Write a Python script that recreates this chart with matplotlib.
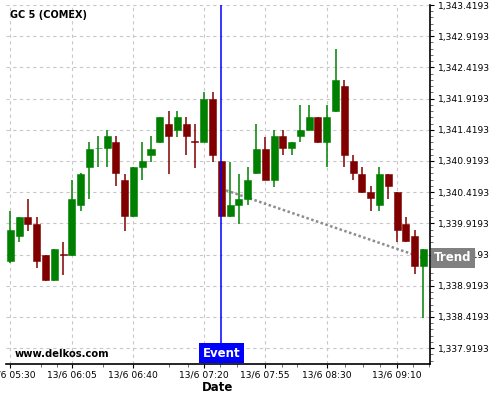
import matplotlib
matplotlib.use("Agg")
import matplotlib.pyplot as plt
import numpy as np
import pandas as pd
from matplotlib.ticker import FixedLocator, FuncFormatter, MultipleLocator

# 5-minute candles, GC 5 (COMEX), 13/6 05:30 -> 09:25
opens = [1339.32, 1339.72, 1340.02, 1339.91, 1339.41, 1339.01, 1339.43, 1339.42,
         1340.22, 1340.83, 1341.12, 1341.12, 1341.22, 1340.62, 1340.03, 1340.82,
         1341.02, 1341.22, 1341.52, 1341.42, 1341.52, 1341.24, 1341.23, 1341.91,
         1340.92, 1340.03, 1340.21, 1340.31, 1340.72, 1341.11, 1340.62, 1341.32,
         1341.12, 1341.32, 1341.42, 1341.62, 1341.22, 1341.72, 1342.12, 1340.92,
         1340.71, 1340.42, 1340.22, 1340.71, 1340.42, 1339.91, 1339.72, 1339.23]
highs = [1340.11, 1340.02, 1340.31, 1340.02, 1339.41, 1339.51, 1339.62, 1340.61,
         1340.72, 1341.22, 1341.32, 1341.42, 1341.32, 1340.71, 1340.82, 1341.22,
         1341.32, 1341.62, 1341.72, 1341.72, 1341.62, 1341.52, 1342.02, 1342.02,
         1340.92, 1340.91, 1340.71, 1340.82, 1341.51, 1341.31, 1341.42, 1341.42,
         1341.22, 1341.81, 1341.81, 1341.62, 1341.81, 1342.71, 1342.21, 1341.01,
         1340.82, 1340.52, 1340.82, 1340.71, 1340.42, 1340.02, 1339.81, 1339.51]
lows = [1339.28, 1339.62, 1339.80, 1339.21, 1339.00, 1339.00, 1339.10, 1339.40,
        1340.11, 1340.31, 1340.82, 1340.82, 1340.52, 1339.80, 1340.02, 1340.62,
        1340.91, 1341.21, 1340.71, 1341.31, 1341.01, 1340.81, 1341.22, 1340.91,
        1340.03, 1340.02, 1339.91, 1340.21, 1340.71, 1340.61, 1340.51, 1341.01,
        1341.01, 1341.22, 1341.42, 1341.21, 1340.82, 1341.71, 1340.82, 1340.61,
        1340.41, 1340.11, 1340.11, 1340.31, 1339.62, 1339.62, 1339.11, 1338.41]
closes = [1339.81, 1340.02, 1339.91, 1339.32, 1339.01, 1339.51, 1339.42, 1340.31,
          1340.71, 1341.11, 1341.13, 1341.32, 1340.72, 1340.03, 1340.82, 1340.92,
          1341.11, 1341.62, 1341.32, 1341.62, 1341.32, 1341.23, 1341.91, 1341.02,
          1340.03, 1340.21, 1340.31, 1340.62, 1341.11, 1340.62, 1341.32, 1341.12,
          1341.22, 1341.42, 1341.62, 1341.22, 1341.62, 1342.22, 1341.02, 1340.72,
          1340.42, 1340.32, 1340.71, 1340.52, 1339.82, 1339.63, 1339.23, 1339.51]

tick_labels = ["13/6 05:30", "13/6 06:05", "13/6 06:40", "13/6 07:20",
               "13/6 07:55", "13/6 08:30", "13/6 09:10"]
event_time = "13/6 07:30"
trend_start = 1340.475          # trend value at the event candle
trend_end = 1339.366            # trend value at the last candle
y_top = 1343.4193
y_bottom = 1337.666

times = pd.date_range("2024-06-13 05:30", periods=len(opens), freq="5min")
stamps = [f"{t.day}/{t.month} {t:%H:%M}" for t in times]
x = np.arange(len(opens))
o, h, l, c = map(np.array, (opens, highs, lows, closes))
up = c >= o
col = np.where(up, "#008000", "#800000")

fig = plt.figure(figsize=(5, 4), dpi=100)
ax = fig.add_axes([0.012, 0.09, 0.848, 0.8975])

ax.vlines(x, l, h, colors=col, linewidth=1.1, zorder=3)
ax.bar(x, c - o, bottom=o, width=0.8, color=col, edgecolor=col,
       linewidth=0.4, zorder=4)

ev = stamps.index(event_time)
ax.axvline(ev, color="#0000ff", linewidth=1.1, zorder=6)
ax.plot([ev, x[-1]], [trend_start, trend_end], color="#8c8c8c",
        linewidth=1.8, linestyle=(0, (1, 1)), zorder=2)

ax.set_xlim(-0.5, len(x) - 0.25)
ax.set_ylim(y_bottom, y_top)

# axes styling
for s in ("top", "left"):
    ax.spines[s].set_visible(False)
ax.spines["right"].set_linewidth(1.2)
ax.spines["bottom"].set_linewidth(1.2)
ax.yaxis.tick_right()

major_y = np.arange(y_top, y_bottom, -0.5)
ax.yaxis.set_major_locator(FixedLocator(major_y))
ax.yaxis.set_minor_locator(FixedLocator(np.arange(y_top, y_bottom, -0.1)))
ax.yaxis.set_major_formatter(FuncFormatter(lambda v, p: f"{v:,.4f}"))

tick_pos = [stamps.index(t) for t in tick_labels]
ax.set_xticks(tick_pos)
ax.set_xticklabels(tick_labels)
ax.xaxis.set_minor_locator(FixedLocator([3.5, 5.3, 10.5, 18, 20.2, 23.9, 25.8,
                                         30.9, 32.6, 38.1, 40.1, 42.1, 45.8, 47.6]))
ax.tick_params(axis="both", which="major", length=3, width=0.8,
               labelsize=6.6, colors="black", pad=2)
ax.tick_params(axis="both", which="minor", length=2, width=0.6, color="#555555")
ax.tick_params(axis="y", which="major", pad=2.5)

ax.grid(True, which="major", color="#c8c8c8", linestyle=(0, (3, 3)),
        linewidth=0.8, zorder=0)
ax.set_axisbelow(True)

ax.set_xlabel("Date", fontsize=8.5, fontweight="bold", labelpad=1)

ax.text(0.009, 0.972, "GC 5 (COMEX)", transform=ax.transAxes,
        fontsize=7, fontweight="bold", va="center", ha="left")
ax.text(0.021, 0.028, "www.delkos.com", transform=ax.transAxes,
        fontsize=7.2, fontweight="bold", va="center", ha="left")

ax.annotate("Event", xy=(ev, 0), xycoords=("data", "axes fraction"),
            xytext=(0, 3.2), textcoords="offset points",
            ha="center", va="bottom", color="white", fontsize=8.5,
            fontweight="bold", zorder=7,
            bbox=dict(boxstyle="square,pad=0.3", fc="#0000ff", ec="none"))
ax.annotate("Trend", xy=(1, trend_end), xycoords=("axes fraction", "data"),
            xytext=(3, 0), textcoords="offset points",
            ha="left", va="center", color="white", fontsize=8.5,
            fontweight="bold", annotation_clip=False, zorder=7,
            bbox=dict(boxstyle="square,pad=0.3", fc="#808080", ec="none"))

fig.savefig("out.png", dpi=100)
